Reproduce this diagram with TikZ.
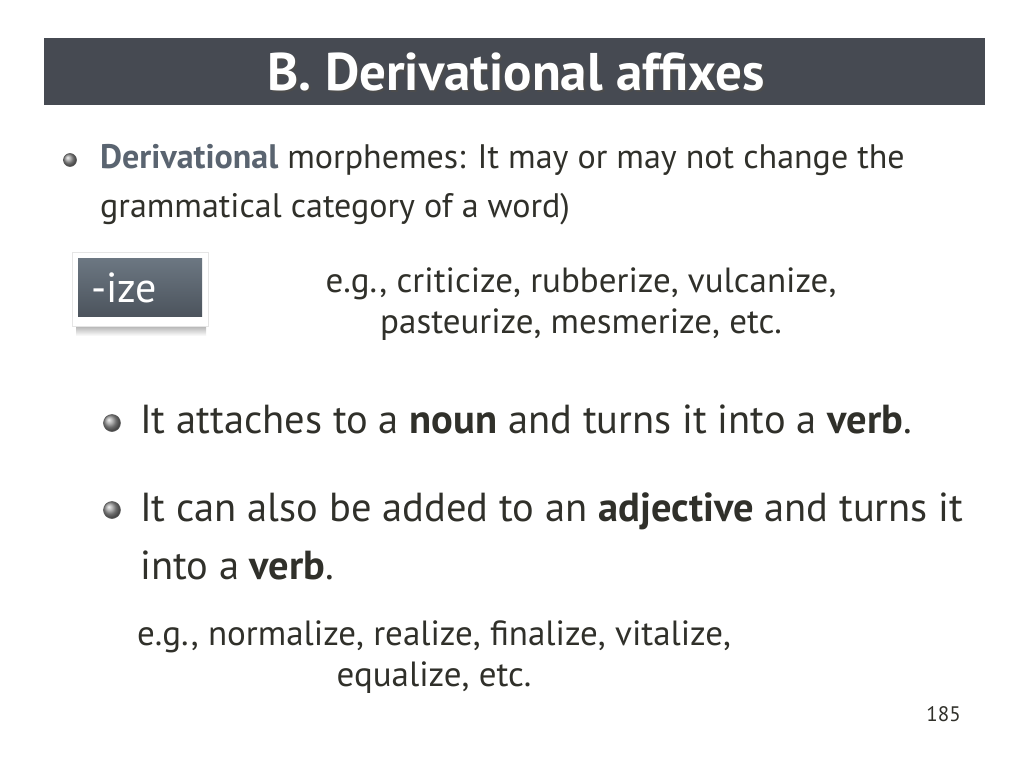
\documentclass[tikz,border=0pt]{standalone}
\usepackage{fontspec}
\setmainfont{PT Sans}
\usetikzlibrary{fadings}
\definecolor{txt}{HTML}{30302A}
\definecolor{bar}{HTML}{464A52}
\definecolor{deriv}{HTML}{5A6470}
\definecolor{boxtop}{HTML}{6C7782}
\definecolor{boxbot}{HTML}{4C545D}
\tikzset{
  line/.style={anchor=base west, inner sep=0pt, text=txt},
  cline/.style={anchor=base, inner sep=0pt, text=txt},
  ball/.style={circle, minimum size=#1, inner sep=0pt, draw=gray!70!black, line width=0.6pt,
    ball color=gray!80, shading=ball},
}
\begin{document}
\begin{tikzpicture}[x=1pt,y=-1pt]
\useasboundingbox (0,0) rectangle (1024,768);
\fill[white] (0,0) rectangle (1024,768);
% title bar
\fill[bar] (44,38) rectangle (985,105);
\node[anchor=base, inner sep=0pt, text=black!70, font=\fontsize{53}{60}\selectfont\bfseries] at (518,92) {B. Derivational affixes};
\node[anchor=base, inner sep=0pt, text=white, font=\fontsize{53}{60}\selectfont\bfseries] (title) at (516,90) {B. Derivational affixes};
% first bullet
\node[ball=13pt] (b0) at (70,160) {};
\node[line, font=\fontsize{34}{40}\selectfont] (l1) at (100,168) {\textcolor{deriv}{\bfseries Derivational} morphemes: It may or may not change the};
\node[line, font=\fontsize{34}{40}\selectfont] (l2) at (100,217) {grammatical category of a word)};
% -ize box
\shade[top color=black!30, bottom color=white] (76,326) rectangle (206,336);
\fill[white, draw=black!10] (72,252) rectangle (208,326);
\shade[top color=boxtop, bottom color=boxbot] (78,258) rectangle (202,316);
\node[anchor=base west, inner sep=0pt, text=white, font=\fontsize{42}{46}\selectfont] (ize) at (91,302) {-ize};
\node[cline, font=\fontsize{35}{40}\selectfont] (eg1) at (581,292) {e.g., criticize, rubberize, vulcanize,};
\node[cline, font=\fontsize{35}{40}\selectfont] (eg2) at (581,333) {pasteurize, mesmerize, etc.};
% second-level bullets
\node[ball=17pt] (b1) at (112,423) {};
\node[line, font=\fontsize{40.5}{46}\selectfont] (t1) at (140,433) {It attaches to a \textbf{noun} and turns it into a \textbf{verb}.};
\node[ball=17pt] (b2) at (112,510) {};
\node[line, font=\fontsize{40.5}{46}\selectfont] (t2) at (140,521) {It can also be added to an \textbf{adjective} and turns it};
\node[line, font=\fontsize{40.5}{46}\selectfont] (t3) at (140,579) {into a \textbf{verb}.};
\node[cline, font=\fontsize{35}{40}\selectfont] (eg3) at (434,645) {e.g., normalize, realize, finalize, vitalize,};
\node[cline, font=\fontsize{35}{40}\selectfont] (eg4) at (434,686) {equalize, etc.};
\node[anchor=base east, inner sep=0pt, text=txt, font=\fontsize{21}{24}\selectfont] (pg) at (961,721) {185};
\end{tikzpicture}
\end{document}
